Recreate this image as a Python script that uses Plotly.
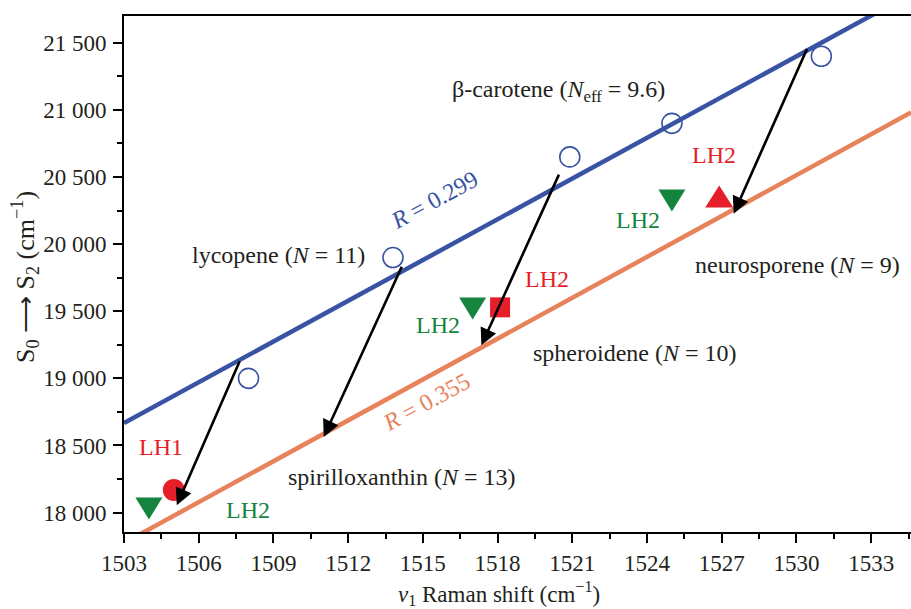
import plotly.graph_objects as go

BLUE = "#3853a4"
ORANGE = "#e8825a"
GREEN = "#14843f"
RED = "#e61e2a"
INK = "#231f20"
SERIF = "'Liberation Serif', 'Times New Roman', serif"

# carotenoids in solution: nu1 Raman shift vs S0 -> S2 energy
sol_raman = [1508.0, 1513.8, 1520.9, 1525.0, 1531.0]
sol_energy = [19000, 19900, 20650, 20900, 21400]

# linear fits (end points across the x range)
fit_x = [1503.0, 1534.6]
fit_sol_y = [18667, 21865]      # R = 0.299
fit_prot_y = [17773, 20981]     # R = 0.355

# shift arrows: from the solution line to the protein line
arrow_from_x = [1507.67, 1514.18, 1520.49, 1530.45]
arrow_from_y = [19139, 19843, 20529, 21465]
arrow_to_x = [1505.12, 1511.02, 1517.35, 1527.48]
arrow_to_y = [18054, 18563, 19246, 20227]

# pigment-protein complexes
lh1_circle_x, lh1_circle_y = [1505.0], [18168]
lh2_square_x, lh2_square_y = [1518.1], [19529]
lh2_up_x, lh2_up_y = [1526.9], [20355]
lh2_down_x = [1504.0, 1517.0, 1525.0]
lh2_down_y = [18030, 19520, 20325]

# text labels
labels = [
    ("β-carotene (<i>N</i><sub>eff</sub> = 9.6)", 1520.45, 21140, INK, 0),
    ("lycopene (<i>N</i> = 11)", 1509.21, 19916, INK, 0),
    ("spirilloxanthin (<i>N</i> = 13)", 1514.18, 18265, INK, 0),
    ("spheroidene (<i>N</i> = 10)", 1523.5, 19188, INK, 0),
    ("neurosporene (<i>N</i> = 9)", 1530.05, 19842, INK, 0),
    ("<i>R</i> = 0.299", 1515.47, 20326, BLUE, -28.6),
    ("<i>R</i> = 0.355", 1515.15, 18821, ORANGE, -28.6),
    ("LH1", 1504.47, 18489, RED, 0),
    ("LH2", 1507.96, 18020, GREEN, 0),
    ("LH2", 1515.59, 19395, GREEN, 0),
    ("LH2", 1520.0, 19742, RED, 0),
    ("LH2", 1523.62, 20177, GREEN, 0),
    ("LH2", 1526.67, 20661, RED, 0),
]

fig = go.Figure()

fig.add_trace(go.Scatter(x=fit_x, y=fit_sol_y, mode="lines",
                         line=dict(color=BLUE, width=4.5), hoverinfo="skip"))
fig.add_trace(go.Scatter(x=fit_x, y=fit_prot_y, mode="lines",
                         line=dict(color=ORANGE, width=4.5), hoverinfo="skip"))
fig.add_trace(go.Scatter(x=sol_raman, y=sol_energy, mode="markers",
                         marker=dict(symbol="circle-open", size=20, color=BLUE,
                                     line=dict(width=1.6, color=BLUE))))
fig.add_trace(go.Scatter(x=lh1_circle_x, y=lh1_circle_y, mode="markers",
                         marker=dict(symbol="circle", size=22, color=RED, line=dict(width=0))))
fig.add_trace(go.Scatter(x=lh2_square_x, y=lh2_square_y, mode="markers",
                         marker=dict(symbol="square", size=20, color=RED, line=dict(width=0))))

# equilateral-looking triangles, sized in pixels around each data point
shapes = []
for x, y in zip(lh2_down_x, lh2_down_y):
    shapes.append(dict(type="path", xref="x", yref="y", xsizemode="pixel", ysizemode="pixel",
                       xanchor=x, yanchor=y, path="M -13.5,11 L 13.5,11 L 0,-11 Z",
                       fillcolor=GREEN, line=dict(width=0), layer="above"))
for x, y in zip(lh2_up_x, lh2_up_y):
    shapes.append(dict(type="path", xref="x", yref="y", xsizemode="pixel", ysizemode="pixel",
                       xanchor=x, yanchor=y, path="M -14,-11 L 14,-11 L 0,11 Z",
                       fillcolor=RED, line=dict(width=0), layer="above"))

annotations = []
for fx, fy, tx, ty in zip(arrow_from_x, arrow_from_y, arrow_to_x, arrow_to_y):
    annotations.append(dict(x=tx, y=ty, ax=fx, ay=fy, xref="x", yref="y",
                            axref="x", ayref="y", text="", showarrow=True,
                            arrowhead=2, arrowsize=1.3, arrowwidth=2.6,
                            arrowcolor="black", standoff=0, startstandoff=0))
for text, x, y, color, ang in labels:
    annotations.append(dict(x=x, y=y, xref="x", yref="y", text=text, showarrow=False,
                            textangle=ang, xanchor="center", yanchor="middle",
                            font=dict(family=SERIF, size=24, color=color)))

# axis titles
annotations.append(dict(x=(499 - 124) / 787, y=-(593 - 532) / 516, xref="paper", yref="paper",
                        text="<i>ν</i><sub>1</sub> Raman shift (cm<sup>−1</sup>)",
                        showarrow=False, xanchor="center", yanchor="middle",
                        font=dict(family=SERIF, size=23, color=INK)))
annotations.append(dict(x=(25 - 124) / 787, y=(532 - 277) / 516, xref="paper", yref="paper",
                        text="S<sub>0</sub> ⟶ S<sub>2</sub> (cm<sup>−1</sup>)",
                        textangle=-90, showarrow=False, xanchor="center", yanchor="middle",
                        font=dict(family=SERIF, size=26, color=INK)))

fig.update_layout(
    width=911, height=609,
    margin=dict(l=124, r=0, t=16, b=77),
    paper_bgcolor="white", plot_bgcolor="white",
    showlegend=False,
    separators=". ",
    font=dict(family=SERIF, size=23, color=INK),
    shapes=shapes,
    annotations=annotations,
)

fig.update_xaxes(
    range=[1503, 1534.6], tick0=1503, dtick=3, tickformat="d",
    showline=True, linecolor="black", linewidth=2, mirror=True,
    ticks="outside", ticklen=9, tickwidth=2, tickcolor="black",
    minor=dict(tick0=1503, dtick=1.5, ticks="outside", ticklen=5, tickwidth=1.5, tickcolor="black"),
    showgrid=False, zeroline=False,
    tickfont=dict(family=SERIF, size=23, color=INK),
    ticklabelstandoff=0,
)
fig.update_yaxes(
    range=[17855, 21700], tick0=18000, dtick=500, tickformat=",d",
    showline=True, linecolor="black", linewidth=2, mirror=False,
    ticks="outside", ticklen=9, tickwidth=2, tickcolor="black",
    minor=dict(tick0=18000, dtick=250, ticks="outside", ticklen=5, tickwidth=1.5, tickcolor="black"),
    showgrid=False, zeroline=False,
    tickfont=dict(family=SERIF, size=23, color=INK),
    ticklabelstandoff=2,
)

fig.write_html("out.html")
